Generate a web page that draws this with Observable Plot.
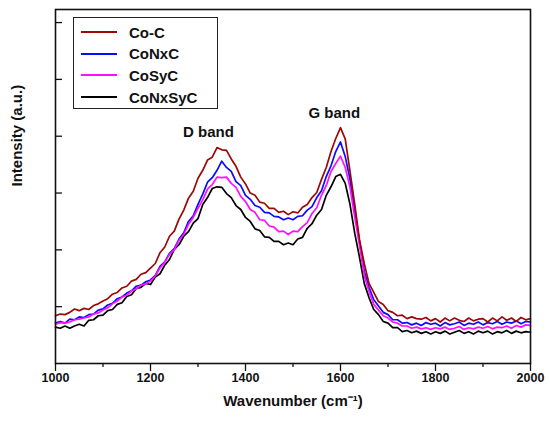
<!DOCTYPE html>
<html><head><meta charset="utf-8">
<script src="https://cdn.jsdelivr.net/npm/d3@7"></script>
<script src="https://cdn.jsdelivr.net/npm/@observablehq/plot@0.6"></script>
<style>
body{margin:0;background:#fff;font-family:"Liberation Sans",Arial,sans-serif;}
#wrap{position:relative;width:550px;height:425px;}
#legend{position:absolute;left:73px;top:17px;width:145px;height:92px;border:1.3px solid #222;box-sizing:border-box;background:#fff;}
.item{position:absolute;left:0;height:20px;display:flex;align-items:center;}
.swatch{width:36px;height:2px;margin-left:7px;margin-right:12px;}
.lab{font-weight:bold;font-size:15px;color:#111;}
</style></head><body><div id="wrap"><div id="legend"></div></div>
<script>
// Raman spectra, sampled every 10 cm^-1 from 1000 to 2000
const wavenumbers = d3.range(1000, 2001, 10);
const seriesNames = ["Co-C", "CoNxC", "CoSyC", "CoNxSyC"];
const seriesColors = ["#9c0808", "#0a0aff", "#ff10ff", "#000000"];

const coC = [0.84,0.87,0.86,0.90,0.96,0.93,0.97,0.95,1.02,1.05,
  1.10,1.14,1.22,1.25,1.33,1.36,1.45,1.48,1.57,1.60,
  1.68,1.76,1.95,2.05,2.24,2.33,2.54,2.70,2.91,3.03,
  3.26,3.40,3.58,3.63,3.80,3.76,3.75,3.60,3.47,3.28,
  3.16,3.00,2.96,2.84,2.82,2.73,2.73,2.66,2.68,2.62,
  2.67,2.65,2.75,2.80,2.92,3.01,3.24,3.45,3.73,3.96,
  4.15,3.95,3.38,2.80,2.18,1.76,1.41,1.25,1.09,1.04,
  0.93,0.90,0.84,0.85,0.79,0.82,0.79,0.78,0.81,0.75,
  0.79,0.73,0.80,0.75,0.80,0.76,0.74,0.80,0.75,0.78,
  0.79,0.73,0.80,0.75,0.82,0.76,0.80,0.74,0.81,0.77,
  0.79];
const coNxC = [0.71,0.74,0.71,0.78,0.77,0.82,0.81,0.86,0.87,0.94,
  0.96,1.03,1.06,1.14,1.17,1.24,1.28,1.36,1.38,1.44,
  1.47,1.55,1.71,1.79,1.94,2.02,2.19,2.30,2.50,2.60,
  2.80,2.98,3.19,3.27,3.40,3.56,3.45,3.38,3.20,3.13,
  2.96,2.89,2.78,2.75,2.66,2.65,2.59,2.58,2.53,2.56,
  2.53,2.59,2.60,2.70,2.76,2.92,3.04,3.29,3.48,3.73,
  3.90,3.64,3.24,2.67,2.15,1.62,1.34,1.12,1.01,0.90,
  0.86,0.77,0.77,0.71,0.72,0.68,0.71,0.67,0.72,0.69,
  0.71,0.66,0.72,0.68,0.70,0.73,0.67,0.71,0.69,0.73,
  0.68,0.72,0.70,0.74,0.69,0.73,0.71,0.75,0.70,0.74,
  0.73];
const coSyC = [0.69,0.72,0.71,0.73,0.77,0.78,0.80,0.82,0.87,0.89,
  0.94,0.98,1.05,1.10,1.17,1.20,1.28,1.31,1.38,1.40,
  1.45,1.54,1.68,1.78,1.92,2.00,2.17,2.27,2.45,2.57,
  2.73,2.88,3.07,3.15,3.28,3.27,3.28,3.17,3.10,2.94,
  2.85,2.71,2.66,2.53,2.52,2.42,2.40,2.32,2.33,2.27,
  2.33,2.32,2.41,2.48,2.64,2.74,2.96,3.13,3.38,3.52,
  3.65,3.45,3.10,2.57,2.08,1.55,1.27,1.04,0.94,0.84,
  0.80,0.73,0.71,0.66,0.66,0.62,0.64,0.61,0.63,0.60,
  0.63,0.61,0.64,0.60,0.62,0.65,0.60,0.63,0.61,0.64,
  0.62,0.65,0.61,0.64,0.63,0.66,0.62,0.67,0.64,0.68,
  0.67];
const coNxSyC = [0.64,0.62,0.66,0.62,0.66,0.69,0.66,0.76,0.77,0.84,
  0.85,0.93,0.95,1.04,1.07,1.18,1.21,1.32,1.34,1.41,
  1.39,1.52,1.58,1.73,1.83,2.01,2.09,2.24,2.32,2.47,
  2.55,2.80,2.92,3.08,3.11,3.10,2.99,2.92,2.78,2.71,
  2.57,2.50,2.37,2.34,2.23,2.22,2.15,2.15,2.09,2.12,
  2.09,2.19,2.22,2.38,2.46,2.61,2.71,2.96,3.11,3.29,
  3.33,3.17,2.80,2.29,1.87,1.41,1.16,0.95,0.86,0.74,
  0.71,0.63,0.63,0.56,0.58,0.54,0.57,0.53,0.56,0.52,
  0.56,0.53,0.57,0.52,0.55,0.58,0.53,0.56,0.52,0.57,
  0.54,0.57,0.52,0.56,0.54,0.58,0.53,0.57,0.54,0.56,
  0.55];

const xTicks = [1000, 1200, 1400, 1600, 1800, 2000];
const xMinorTicks = [1100, 1300, 1500, 1700, 1900];
const yTicks = [1, 2, 3, 4, 5, 6];
const bandLabels = ["D band", "G band"];
const bandX = [1322, 1587];
const bandY = [4.07, 4.40];
const xTitle = "Wavenumber (cm\u207B\u00B9)";
const yTitle = "Intensity (a.u.)";

const seriesValues = [coC, coNxC, coSyC, coNxSyC];
const table = seriesNames.map((name, k) =>
  seriesValues[k].map((v, i) => ({w: wavenumbers[i], v, name})));
const drawOrder = [3, 1, 2, 0];
const bands = bandLabels.map((t, i) => ({t, x: bandX[i], y: bandY[i]}));

const chart = Plot.plot({
  width: 550, height: 425,
  marginLeft: 55, marginRight: 20, marginTop: 9, marginBottom: 62,
  style: {fontFamily: "'Liberation Sans', Arial, sans-serif", fontSize: "12.5px", fontWeight: "bold", color: "#111", background: "#fff"},
  x: {domain: [1000, 2000]},
  y: {domain: [0, 6.23]},
  marks: [
    Plot.axisX({ticks: xMinorTicks, tickSize: 4, fill: "none", label: null, strokeWidth: 1.3}),
    Plot.axisX({ticks: xTicks, tickSize: 8, tickPadding: 2, tickFormat: "d", label: null, strokeWidth: 1.3}),
    Plot.axisY({ticks: yTicks, tickSize: 7, dx: 7, fill: "none", label: null, strokeWidth: 1.3}),
    ...drawOrder.map(k => Plot.line(table[k], {x: "w", y: "v", stroke: seriesColors[k], strokeWidth: 1.7})),
    Plot.frame({strokeWidth: 1.6, stroke: "#111"}),
    Plot.text(bands, {x: "x", y: "y", text: "t", fontSize: 15, fontWeight: "bold"}),
    Plot.text([yTitle], {frameAnchor: "left", dx: -38, rotate: -90, fontSize: 15, fontWeight: "bold"}),
    Plot.text([xTitle], {frameAnchor: "bottom", dy: 42, fontSize: 15, fontWeight: "bold"})
  ]
});
const wrap = document.getElementById("wrap");
wrap.prepend(chart);

const legend = document.getElementById("legend");
seriesNames.forEach((name, k) => {
  const item = document.createElement("div");
  item.className = "item";
  item.style.top = (4 + k * 21.7) + "px";
  const sw = document.createElement("div");
  sw.className = "swatch";
  sw.style.background = seriesColors[k];
  const lab = document.createElement("span");
  lab.className = "lab";
  lab.textContent = name;
  item.append(sw, lab);
  legend.append(item);
});
</script></body></html>
